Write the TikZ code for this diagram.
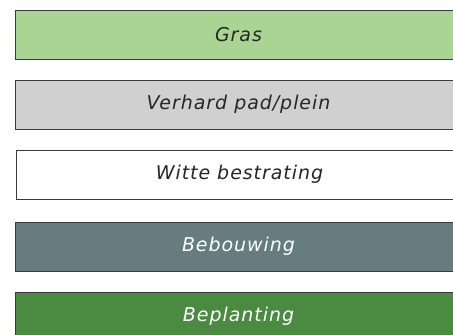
\documentclass[tikz,border=0pt]{standalone}
\usepackage{fontspec}
\setmainfont{DejaVu Sans}[LetterSpace=5]
\definecolor{grasc}{HTML}{A9D494}
\definecolor{padc}{HTML}{D0D0D0}
\definecolor{bebc}{HTML}{667C7E}
\definecolor{beplc}{HTML}{4A8B41}
\definecolor{edgec}{HTML}{3A3A3A}
\definecolor{txtc}{HTML}{262626}
\begin{document}
\begin{tikzpicture}[x=1pt,y=-1pt,
  legbox/.style={draw=edgec,line width=1pt,minimum width=446pt,minimum height=49pt,
    inner sep=0pt,anchor=north west,font=\itshape\fontsize{19}{22}\selectfont}]
\useasboundingbox (0,0) rectangle (453,335);
\clip (0,0) rectangle (453,335);
\node[legbox,fill=grasc,text=txtc] (gras) at (15,9.5) {Gras};
\node[legbox,fill=padc,text=txtc] (pad) at (15,79.5) {Verhard pad/plein};
\node[legbox,fill=white,text=txtc] (wit) at (16,149.5) {Witte bestrating};
\node[legbox,fill=bebc,text=white] (beb) at (15,221.5) {Bebouwing};
\node[legbox,fill=beplc,text=white] (bepl) at (15,291.5) {Beplanting};
\end{tikzpicture}
\end{document}
